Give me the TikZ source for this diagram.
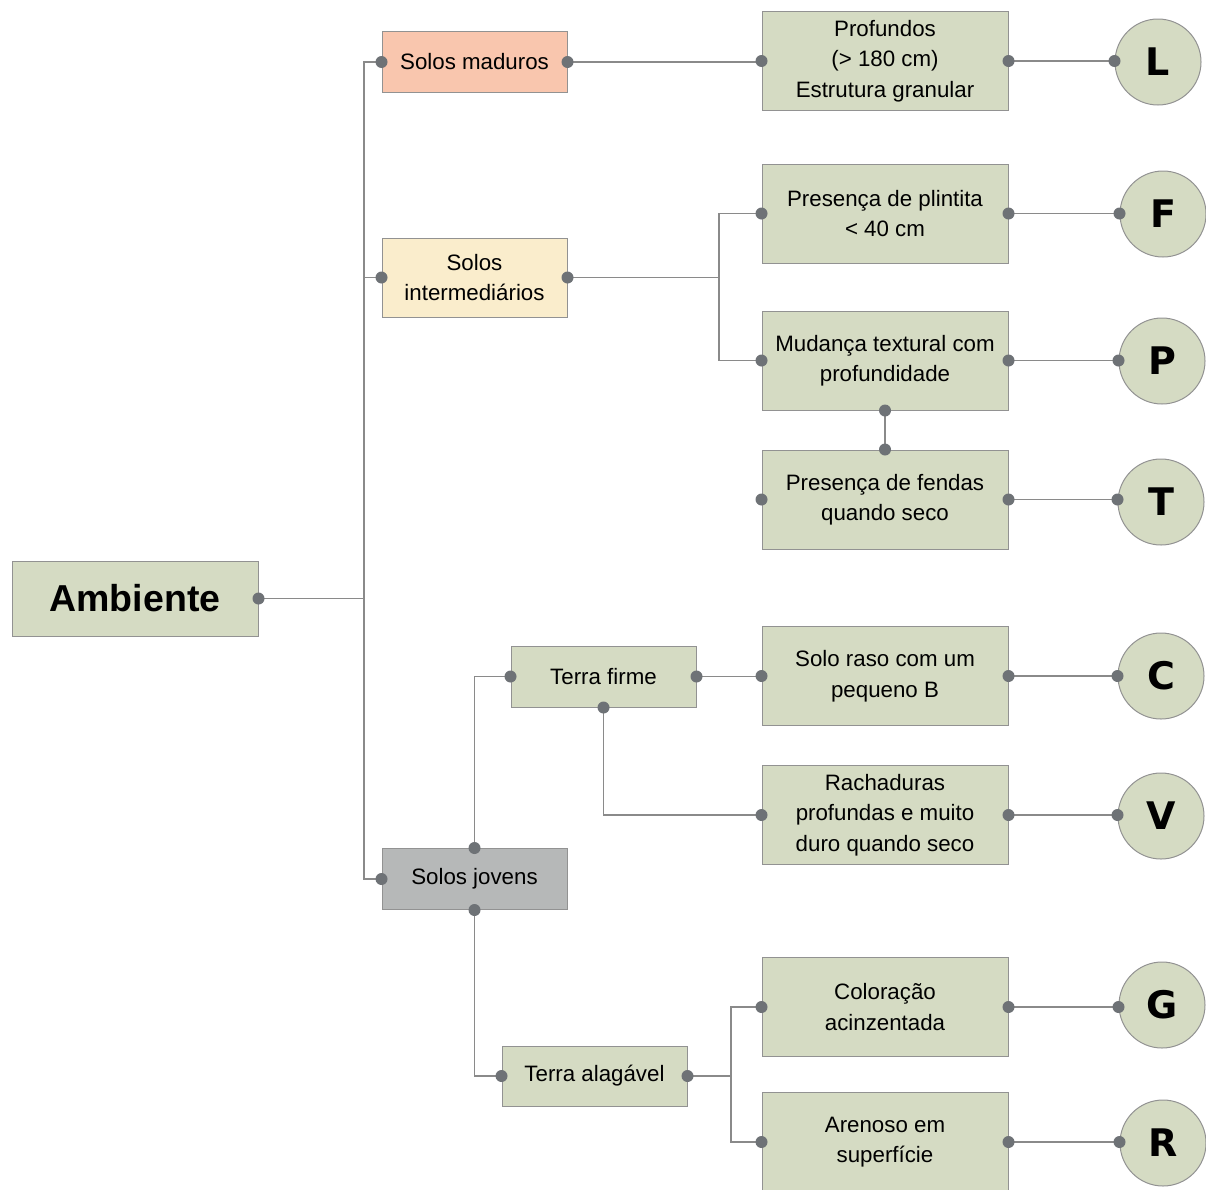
\documentclass[tikz,border=0pt]{standalone}
\usepackage{fontspec}
\setmainfont{Liberation Sans}
\newfontfamily\heavyfont{DejaVu Sans}
\definecolor{boxgreen}{HTML}{D5DBC3}
\definecolor{boxsalmon}{HTML}{F9C6AE}
\definecolor{boxyellow}{HTML}{FAEDCC}
\definecolor{boxgray}{HTML}{B6B8B8}
\definecolor{bordergray}{HTML}{929292}
\definecolor{linegray}{HTML}{8A8A8A}
\definecolor{dotgray}{HTML}{6E7276}
\tikzset{
  box/.style={draw=bordergray, line width=1pt, fill=boxgreen, inner sep=0pt, align=center,
    font=\fontsize{22.3}{30.5}\selectfont},
  rbox/.style={box, minimum width=246pt, minimum height=99pt},
  mbox/.style={box, minimum width=185pt, minimum height=61pt},
  lettercircle/.style={circle, draw=bordergray, line width=1pt, fill=boxgreen, minimum size=86pt, inner sep=0pt,
    font=\heavyfont\bfseries\fontsize{38}{40}\selectfont},
  conn/.style={draw=linegray, line width=1.7pt},
  dot/.style={fill=dotgray}
}
\begin{document}
\begin{tikzpicture}[x=1pt,y=-1pt]
\useasboundingbox (0,0) rectangle (1206,1189);
% coordinates for branch lines
\coordinate (trunk) at (364,0);
\coordinate (b1) at (719,0);
\coordinate (b2) at (731,0);
% nodes
\node[box, minimum width=246pt, minimum height=75pt, font=\bfseries\fontsize{37.5}{40}\selectfont] (amb) at (135,598.5) {Ambiente};
\node[mbox, fill=boxsalmon] (mad) at (474.5,62) {Solos maduros};
\node[mbox, fill=boxyellow, minimum height=79pt] (int) at (474.5,277.5) {Solos\\intermediários};
\node[mbox, fill=boxgray] (jov) at (474.5,879) {Solos jovens};
\node[mbox] (tf) at (603.5,676.5) {Terra firme};
\node[mbox, minimum height=60pt] (ta) at (594.5,1076) {Terra alagável};

\node[rbox] (prof) at (885,61) {Profundos\\(> 180 cm)\\Estrutura granular};
\node[rbox] (plin) at (885,213.5) {Presença de plintita\\< 40 cm};
\node[rbox] (mud) at (885,360.5) {Mudança textural com\\profundidade};
\node[rbox] (fen) at (885,499.5) {Presença de fendas\\quando seco};
\node[rbox] (raso) at (885,676) {Solo raso com um\\pequeno B};
\node[rbox] (rach) at (885,815) {Rachaduras\\profundas e muito\\duro quando seco};
\node[rbox] (col) at (885,1007) {Coloração\\acinzentada};
\node[rbox] (are) at (885,1142) {Arenoso em\\superfície};

\node[lettercircle] (cL) at (1158,62) {L};
\node[lettercircle] (cF) at (1163,214) {F};
\node[lettercircle] (cP) at (1162,361) {P};
\node[lettercircle] (cT) at (1161,502) {T};
\node[lettercircle] (cC) at (1161,676) {C};
\node[lettercircle] (cV) at (1161,816) {V};
\node[lettercircle] (cG) at (1162,1005) {G};
\node[lettercircle] (cR) at (1163,1143) {R};

% connectors
\draw[conn] (amb.east) -- (amb.east -| trunk);
\draw[conn] (mad.west) -- (mad.west -| trunk) |- (jov.west);
\draw[conn] (int.west) -- (int.west -| trunk);
\draw[conn] (mad.east) -- (mad.east -| prof.west);
\draw[conn] (int.east) -- (int.east -| b1);
\draw[conn] (plin.west) -- (plin.west -| b1) |- (mud.west);
\draw[conn] (mud.south) -- (fen.north);
\draw[conn] (jov.north) |- (tf.west);
\draw[conn] (jov.south) |- (ta.west);
\draw[conn] (tf.east) -- (tf.east -| raso.west);
\draw[conn] (tf.south) |- (rach.west);
\draw[conn] (ta.east) -- (ta.east -| b2);
\draw[conn] (col.west) -- (col.west -| b2) |- (are.west);
\foreach \b/\c in {prof/cL, plin/cF, mud/cP, fen/cT, raso/cC, rach/cV, col/cG, are/cR}{
  \draw[conn] (\b.east) -- (\b.east -| \c.west);
  \fill[dot] (\b.east) circle (6pt);
  \fill[dot] (\b.east -| \c.west) circle (6pt);
  \fill[dot] (\b.west) circle (6pt);
}
% dots
\fill[dot] (amb.east) circle (6pt);
\foreach \n in {mad, int, jov, tf, ta}{
  \fill[dot] (\n.west) circle (6pt);
}
\foreach \n in {mad, int, tf, ta}{
  \fill[dot] (\n.east) circle (6pt);
}
\fill[dot] (jov.north) circle (6pt);
\fill[dot] (jov.south) circle (6pt);
\fill[dot] (tf.south) circle (6pt);
\fill[dot] (mud.south) circle (6pt);
\fill[dot] (fen.north) circle (6pt);
\end{tikzpicture}
\end{document}
